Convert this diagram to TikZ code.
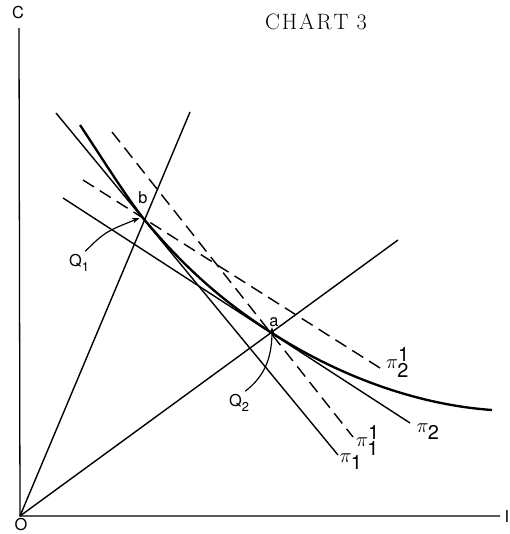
\documentclass[tikz,border=0pt]{standalone}
\usepackage{fontspec}
\setsansfont{TeX Gyre Heros}
\usetikzlibrary{arrows.meta}
\newcommand{\lowsub}[1]{\raisebox{-0.55ex}{\fontsize{11}{12}\selectfont #1}}

\begin{document}
\begin{tikzpicture}[x=0.03cm,y=-0.03cm,font=\sffamily,
  axis/.style={line width=1.1pt},
  price/.style={line width=1.2pt},
  shifted/.style={line width=1.2pt,dash pattern=on 11pt off 6pt},
  isoquant/.style={line width=2pt},
  pointer/.style={-{Stealth[length=2.2mm,width=1.6mm]},line width=1pt},
  letter/.style={font=\sffamily\fontsize{14}{16}\selectfont,inner sep=0pt},
  pilabel/.style={font=\fontsize{17}{19}\selectfont,inner sep=0pt}]
\useasboundingbox (0,0) rectangle (510,534);
\fill[white] (0,0) rectangle (510,534);

% AXES
\coordinate (O) at (20,516);
\coordinate (Ctop) at (19,28);
\coordinate (Iend) at (500,516);
\draw[axis] (Ctop) -- (O) -- (Iend);
\node[letter] (lblC) at (18,13) {C};
\node[letter] (lblO) at (21,525) {O};
\node[letter] (lblI) at (507,517) {I};
\node[font=\rmfamily\fontsize{19}{22}\selectfont,inner sep=0pt]
  (title) at (316,22) {C\kern1.6ptH\kern1.6ptA\kern1.6ptR\kern1.6ptT\hspace{7pt}3};

% RAYS THROUGH b AND a
\coordinate (b) at (143,218);
\coordinate (a) at (272,333);
\coordinate (rayb) at (190,112);
\coordinate (raya) at (398,240);
\draw[price] (O) -- (rayb);
\draw[price] (O) -- (raya);

% PRICE LINES
\coordinate (p1s) at (56,113);   \coordinate (p1e) at (338,455);
\coordinate (p2s) at (63,198);   \coordinate (p2e) at (410,423);
\coordinate (q1s) at (112,132);  \coordinate (q1e) at (353,437);
\coordinate (q2s) at (83,180);   \coordinate (q2e) at (380,368);
\draw[price] (p1s) -- (p1e);
\draw[price] (p2s) -- (p2e);
\draw[shifted] (q1s) -- (q1e);
\draw[shifted] (q2s) -- (q2e);
\node[pilabel] (lblp1) at (351,462) {$\pi_{\textsf{1}}$};
\node[pilabel] (lblp2) at (428,432) {$\pi_{\textsf{2}}$};
\node[pilabel] (lblq1) at (368,440) {$\pi^{\textsf{1}}_{\textsf{1}}$};
\node[pilabel] (lblq2) at (398,362) {$\pi^{\textsf{1}}_{\textsf{2}}$};

% ISOQUANT
\coordinate (isoS) at (80,125);
\coordinate (isoE) at (492,410);
\draw[isoquant] (isoS) .. controls (100,155) and (125,195) .. (b)
  .. controls (188,272) and (227,304) .. (a)
  .. controls (342,378) and (420,405) .. (isoE);

% POINT LABELS AND POINTERS
\node[letter] (lblb) at (143,198) {b};
\node[letter] (lbla) at (274,322) {a};
\node[letter] (lblQ1) at (79,263) {Q\lowsub{1}};
\node[letter] (lblQ2) at (239,403) {Q\lowsub{2}};
\draw[pointer] ([shift={(-4,-3)}]lblQ1.north east) .. controls (105,232) .. ([xshift=-3]b);
\draw[pointer] ([shift={(-4,-3)}]lblQ2.north east) .. controls (262,378) and (272,362) .. ([yshift=5]a);
\end{tikzpicture}
\end{document}
